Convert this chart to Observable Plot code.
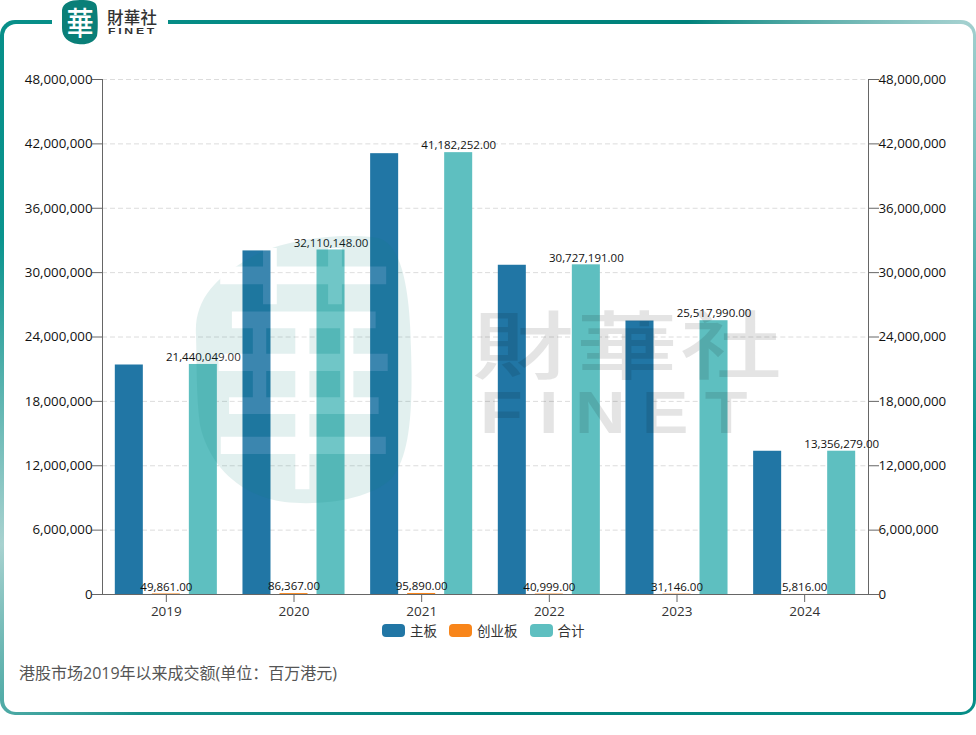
<!DOCTYPE html>
<html lang="zh">
<head>
<meta charset="utf-8">
<title>港股市场2019年以来成交额</title>
<script src="https://cdn.jsdelivr.net/npm/d3@7"></script>
<script src="https://cdn.jsdelivr.net/npm/@observablehq/plot@0.6"></script>
<style>
  html, body { margin: 0; padding: 0; background: #fff; }
  body { width: 976px; height: 735px; position: relative; overflow: hidden;
         font-family: "Open Sans", "Noto Sans CJK SC", sans-serif; }
  #frame { position: absolute; left: 0; top: 20px; width: 976px; height: 695px; border-radius: 15px;
           background: conic-gradient(#00827b 0deg, #00827b 30deg, #a3d0cf 54deg, #0a938d 98deg,
                       #00827b 180deg, #14908a 225deg, #a8d2d0 250deg, #0a948e 285deg, #00827b 360deg); }
  #frame::after { content: ""; position: absolute; left: 3.5px; right: 3.5px; top: 3.5px; bottom: 3.5px;
                  background: #fff; border-radius: 12px; }
  #gap { position: absolute; left: 52px; top: 10px; width: 116px; height: 20px; background: #fff; }
  #chart { position: absolute; left: 0; top: 0; }
  #chart svg { display: block; background: transparent; }
  .overlay { position: absolute; left: 0; top: 0; pointer-events: none; }
  #legend { position: absolute; left: 382px; top: 621px; height: 18px; display: flex; align-items: center;
            font-size: 13.5px; color: #333; }
  #legend .sw { width: 23px; height: 13px; border-radius: 4px; margin-right: 5px; }
  #legend .item { display: flex; align-items: center; margin-right: 12px; }
  #caption { position: absolute; left: 19px; top: 662px; font-size: 16px; line-height: 22px; color: #555; white-space: nowrap; }
</style>
</head>
<body>
<div id="frame"></div>
<div id="gap"></div>
<div id="chart"></div>

<svg class="overlay" width="976" height="735" viewBox="0 0 976 735">
  <g opacity="0.115">
    <path fill="#0a7f78" d="M196,335 C194,300 215,278 250,258 C280,240 340,232 378,238 C402,244 410,290 411,350 C413,410 410,455 392,478 C370,500 320,506 285,502 C245,497 210,470 200,425 C196,395 197,365 196,335 Z"/>
    <text transform="translate(303,468) scale(0.72,1)" text-anchor="middle" font-family="Noto Sans CJK TC" font-weight="400" font-size="262" fill="#fff">華</text>
  </g>
  <g fill="#000" opacity="0.1" font-family="Noto Sans CJK TC">
    <text transform="translate(472,373) scale(1,0.72)" font-size="102" font-weight="500" textLength="310" lengthAdjust="spacing">財華社</text>
    <text x="480" y="433" font-family="Liberation Sans" font-size="60" font-weight="700" textLength="284" lengthAdjust="spacingAndGlyphs" letter-spacing="14">FINET</text>
  </g>
  <path fill="#0a7f78" d="M62,10 C63,3 70,0 80,0 C90,0 97,1 97,8 C98,20 98,30 97,36 C94,43 86,45 78,44 C68,43 62,37 62,28 Z"/>
  <text transform="translate(80,35) scale(0.85,1)" text-anchor="middle" font-family="Noto Sans CJK TC" font-weight="500" font-size="32" fill="#fff">華</text>
  <text x="107" y="24" font-family="Noto Sans CJK TC" font-weight="500" font-size="16.5" fill="#333" textLength="50" lengthAdjust="spacing">財華社</text>
  <text x="108" y="33.5" font-family="Liberation Sans" font-weight="700" font-size="8.8" fill="#333" textLength="49" lengthAdjust="spacingAndGlyphs" letter-spacing="2">FINET</text>
</svg>

<div id="legend"></div>
<div id="caption">港股市场2019年以来成交额(单位&#xFF1A;百万港元)</div>

<script>
const years = ["2019", "2020", "2021", "2022", "2023", "2024"];
const seriesNames = ["主板", "创业板", "合计"];
const seriesColors = ["#2176a5", "#f8851a", "#5ebfc0"];
const mainBoard = [21390188, 32023781, 41086362, 30686192, 25486844, 13350463];
const gemBoard = [49861, 86367, 95890, 40999, 31146, 5816];
const totals = [21440049, 32110148, 41182252, 30727191, 25517990, 13356279];
const yTicks = [0, 6000000, 12000000, 18000000, 24000000, 30000000, 36000000, 42000000, 48000000];

const columns = [mainBoard, gemBoard, totals];
const rows = seriesNames.flatMap((name, s) =>
  years.map((year, i) => ({ year, series: name, value: columns[s][i] })));
const labelled = rows.filter(d => d.series !== "主板");
const money = d3.format(",.2f");
const thousands = d3.format(",");
const axisColor = "#666";

const chart = Plot.plot({
  width: 976,
  height: 735,
  marginLeft: 102,
  marginRight: 108,
  marginTop: 79,
  marginBottom: 141,
  style: { background: "transparent", fontFamily: "'Open Sans','Noto Sans CJK SC',sans-serif" },
  fx: { domain: years, padding: 0, round: false, label: null },
  x: { domain: seriesNames, padding: 0.243, paddingOuter: 0.346, round: false, axis: null, label: null },
  y: { domain: [0, 48000000], label: null, axis: null },
  color: { domain: seriesNames, range: seriesColors },
  marks: [
    Plot.gridY(yTicks.filter(d => d > 0), { stroke: "#dcdcdc", strokeOpacity: 1, strokeDasharray: "5,3" }),
    Plot.barY(rows, { fx: "year", x: "series", y: "value", fill: "series" }),
    Plot.frame({ anchor: "left", facet: "super", stroke: axisColor }),
    Plot.frame({ anchor: "right", facet: "super", stroke: axisColor }),
    Plot.frame({ anchor: "bottom", facet: "super", stroke: axisColor }),
    Plot.axisY({ anchor: "left", ticks: yTicks, tickFormat: thousands, tickSize: 10, tickPadding: 0,
                 label: null, fontSize: 13.3, fill: "#111", stroke: axisColor }),
    Plot.axisY({ anchor: "right", ticks: yTicks, tickFormat: thousands, tickSize: 10, tickPadding: 0,
                 label: null, fontSize: 13.3, fill: "#111", stroke: axisColor }),
    Plot.axisFx({ anchor: "bottom", tickSize: 8, tickPadding: 4, label: null, fontSize: 13.5, fill: "#333", stroke: axisColor }),
    Plot.text(labelled, { fx: "year", x: "series", y: "value", text: d => money(d.value),
                          dy: -7, fontSize: 11.5, fill: "#111" })
  ]
});
document.getElementById("chart").append(chart);

const legend = d3.select("#legend");
seriesNames.forEach((name, i) => {
  const item = legend.append("div").attr("class", "item");
  item.append("div").attr("class", "sw").style("background", seriesColors[i]);
  item.append("span").text(name);
});
</script>
</body>
</html>
